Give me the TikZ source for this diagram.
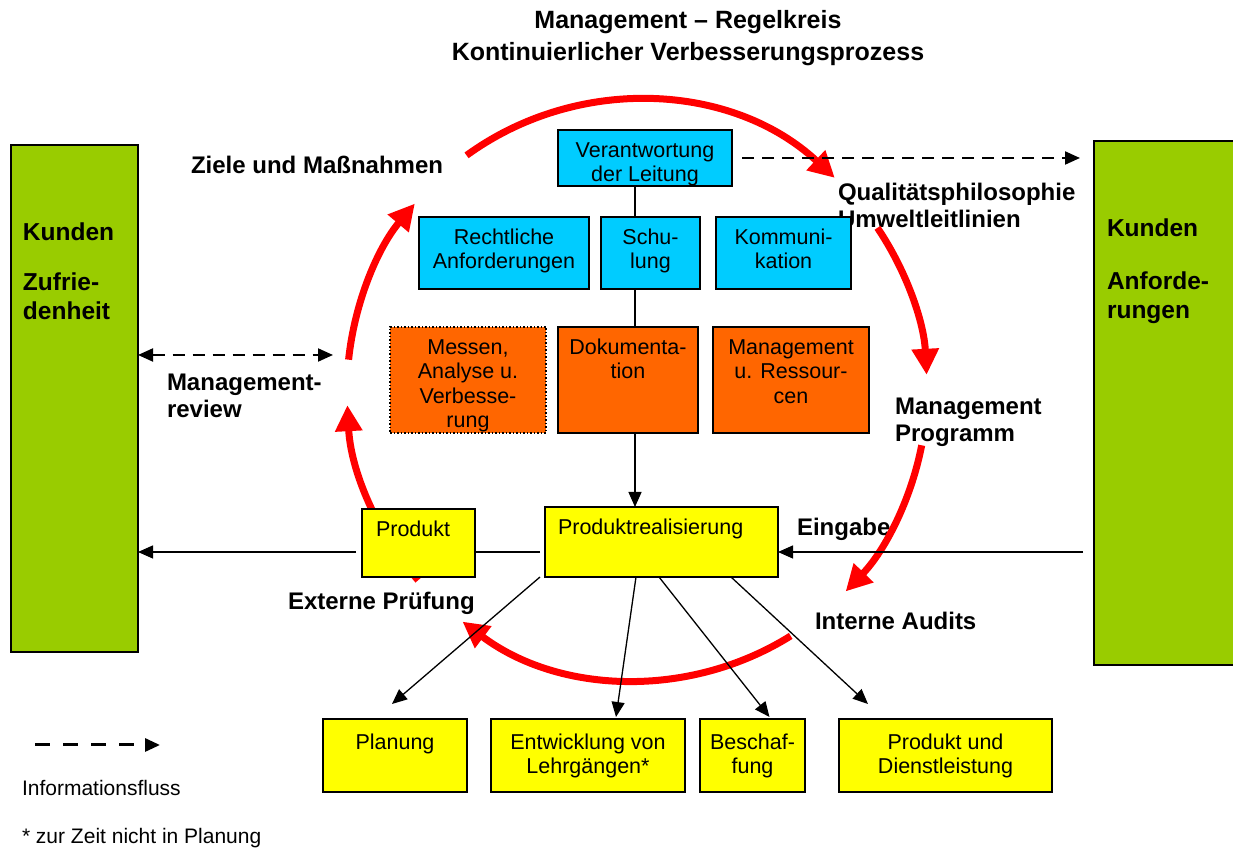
\documentclass[tikz,border=0pt]{standalone}
\usepackage{fontspec}
\setmainfont{Liberation Sans}
\usetikzlibrary{arrows.meta}

\definecolor{kblau}{HTML}{00CCFF}
\definecolor{korange}{HTML}{FF6600}
\definecolor{kgelb}{HTML}{FFFF00}
\definecolor{kgruen}{HTML}{99CC00}
\definecolor{krot}{HTML}{FF0000}

% text box of fixed size, text at the top
\newcommand{\boxtext}[4][10pt]{\parbox[c][#3][t]{#2}{\vspace*{#1}\centering\strut #4}}

\begin{document}
\begin{tikzpicture}[x=1pt,y=1pt,line width=1.3pt,>={Triangle[length=15pt,width=13pt]}]

		\tikzstyle{every node}=[inner sep=0pt,outer sep=0pt]
		\tikzstyle{box}=[draw=black,line width=1.5pt,anchor=north west,font=\fontsize{21.5}{24.5}\selectfont]
		\tikzstyle{blau}=[box,fill=kblau]
		\tikzstyle{orange}=[box,fill=korange]
		\tikzstyle{gelb}=[box,fill=kgelb]
		\tikzstyle{gruen}=[box,line width=1.2pt,fill=kgruen,font=\fontsize{24.5}{29}\selectfont\bfseries]
		\tikzstyle{lbl}=[anchor=base west,align=left,font=\fontsize{24}{27}\selectfont\bfseries]
		\tikzstyle{rund}=[draw=krot,line width=7pt,-{Triangle[length=26pt,width=26pt]}]
		\tikzstyle{info}=[dash pattern=on 12pt off 8pt,line width=2pt]

		\useasboundingbox (0,0) rectangle (1233,848);

		% title and labels (base = last line)
		\node (titel) [anchor=base,align=center,font=\fontsize{25}{32}\selectfont\bfseries] at (688,787)
			{Management – Regelkreis\\Kontinuierlicher Verbesserungsprozess};
		\node (ziele) [lbl] at (191,674.4) {Ziele und Maßnahmen};
		\node (quali) [lbl] at (838,620.4) {Qualitätsphilosophie\\Umweltleitlinien};
		\node (review) [lbl] at (167,430.4) {Management-\\review};
		\node (programm) [lbl] at (895,406.4) {Management\\Programm};
		\node (eingabe) [lbl] at (797,312.4) {Eingabe};
		\node (extern) [lbl] at (288,238.4) {Externe Prüfung};
		\node (intern) [lbl] at (815,218.4) {Interne Audits};
		\node (legende) [anchor=base west,font=\fontsize{21}{24}\selectfont] at (22,52.3) {Informationsfluss};
		\node (fussnote) [anchor=base west,font=\fontsize{21}{24}\selectfont] at (22,4.3) {* zur Zeit nicht in Planung};

		% control loop
		\coordinate (kreis) at (637,458);
		\draw[rund] (kreis) ++(126:290) arc[start angle=126,end angle=47,radius=290];
		\draw[rund] (kreis) ++(34:290) arc[start angle=34,end angle=3,radius=290];
		\draw[rund] (kreis) ++(-11:290) arc[start angle=-11,end angle=-44,radius=290];
		\draw[rund] (kreis) ++(-58:290) arc[start angle=-58,end angle=-127,radius=290];
		\draw[rund] (kreis) ++(-139:290) arc[start angle=-139,end angle=-177,radius=290];
		\draw[rund] (kreis) ++(174:290) arc[start angle=174,end angle=140,radius=290];

		% boxes
		\node (kunden_l) [gruen] at (11,703)
			{\boxtext[75pt]{127pt}{507pt}{\raggedright\leftskip=12pt Kunden\\[21pt]Zufrie-\\denheit}};
		\node (kunden_r) [gruen] at (1094,707)
			{\boxtext[75pt]{142pt}{524pt}{\raggedright\leftskip=13pt Kunden\\[24pt]Anforde-\\rungen}};

		\node (verant) [blau] at (558,718) {\boxtext{174pt}{56pt}{Verantwortung\\der Leitung}};
		\node (recht) [blau] at (419,631) {\boxtext{170pt}{72pt}{Rechtliche\\Anforderungen}};
		\node (schul) [blau] at (601,631) {\boxtext{99pt}{72pt}{Schu-\\lung}};
		\node (komm) [blau] at (716,631) {\boxtext{135pt}{72pt}{Kommuni-\\kation}};

		\node (messen) [orange,dotted] at (390,521) {\boxtext{156pt}{106pt}{Messen,\\Analyse u.\\Verbesse-\\rung}};
		\node (doku) [orange] at (558,521) {\boxtext{140pt}{106pt}{Dokumenta-\\tion}};
		\node (ressourcen) [orange] at (713,521) {\boxtext{156pt}{106pt}{Management\\u. Ressour-\\cen}};

		\node (prodreal) [gelb] at (545,341) {\boxtext{233pt}{70pt}{\raggedright\leftskip=13pt Produktrealisierung}};
		\node (produkt) [gelb] at (362,339) {\boxtext{113pt}{68pt}{\raggedright\leftskip=14pt Produkt}};

		\node (planung) [gelb] at (323,129) {\boxtext[13pt]{144pt}{73pt}{Planung}};
		\node (entw) [gelb] at (491,129) {\boxtext[13pt]{194pt}{73pt}{Entwicklung von\\Lehrgängen*}};
		\node (besch) [gelb] at (700,129) {\boxtext[13pt]{105pt}{73pt}{Beschaf-\\fung}};
		\node (prodpd) [gelb] at (839,129) {\boxtext[13pt]{213pt}{73pt}{Produkt und\\Dienstleistung}};

		% connectors
		\coordinate (achse) at (635,0);
		\coordinate (mitte) at (0,296);
		\draw (verant.south -| achse) -- (schul.north -| achse);
		\draw (schul.south -| achse) -- (doku.north -| achse);
		\draw[->] (doku.south -| achse) -- (prodreal.north -| achse);

		\draw[shorten <=5pt] (prodreal.west |- mitte) -- (produkt.east |- mitte);
		\draw[->,shorten <=6pt] (produkt.west |- mitte) -- (kunden_l.east |- mitte);
		\draw[->,shorten <=11pt] (kunden_r.west |- mitte) -- (prodreal.east |- mitte);

		\draw[->] ([xshift=-5pt]prodreal.south west) -- ([xshift=-3pt,yshift=15pt]planung.north);
		\draw[->] ([xshift=91pt]prodreal.south west) -- ([xshift=28pt,yshift=2pt]entw.north);
		\draw[->] ([xshift=114pt]prodreal.south west) -- ([xshift=17pt,yshift=2pt]besch.north);
		\draw[->] ([xshift=186pt]prodreal.south west) -- ([xshift=29pt,yshift=15pt]prodpd.north west);

		% information flow
		\coordinate (info_r) at (1080,690);
		\coordinate (review_r) at (333,493);
		\draw[info,->,shorten <=10pt] (verant.east) -- (info_r);
		\draw[info,<->] (kunden_l.east |- review_r) -- (review_r);

		\coordinate (leg_a) at (35,103);
		\coordinate (leg_b) at (160,103);
		\draw[->,dash pattern=on 15pt off 13pt,line width=3pt] (leg_a) -- (leg_b);

\end{tikzpicture}
\end{document}
